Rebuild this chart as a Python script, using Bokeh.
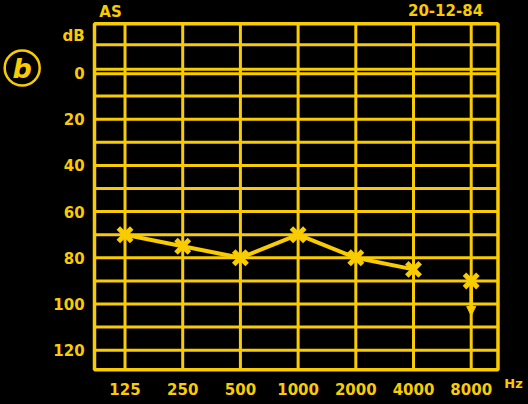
import math
from bokeh.plotting import figure
from bokeh.models import Range1d, Arrow, NormalHead, ColumnDataSource
from bokeh.core.properties import value
from bokeh.embed import file_html
from bokeh.resources import INLINE

# ---- data ----
freqs_hz = [125, 250, 500, 1000, 2000, 4000, 8000]
freq_labels = ["125", "250", "500", "1000", "2000", "4000", "8000"]
thresholds_db = [70, 75, 80, 70, 80, 85, 90]
no_response = [False, False, False, False, False, False, True]
y_tick_values = [-16, 0, 20, 40, 60, 80, 100, 120]
y_tick_labels = ["dB", "0", "20", "40", "60", "80", "100", "120"]
y_grid_values = [-12.2, -1.6, 0.3, 10, 20, 30, 40, 50, 60, 70, 80, 90, 100, 110, 120]
patient = "AS"
test_date = "20-12-84"
unit_x = "Hz"
panel_letter = "b"

# ---- layout (in octave / dB units) ----
FRAME_L, FRAME_R = -0.529, 6.464
FRAME_T, FRAME_B = -21.3, 128.5
YLAB_X = -0.70
XLAB_Y = 136.8

YEL = "#F8CC00"
FONT = "DejaVu Sans"

oct_x = [math.log2(f / freqs_hz[0]) for f in freqs_hz]

resp_src = ColumnDataSource(dict(
    x=[x for x, n in zip(oct_x, no_response) if not n],
    y=[y for y, n in zip(thresholds_db, no_response) if not n]))
all_src = ColumnDataSource(dict(x=oct_x, y=thresholds_db))

p = figure(width=528, height=404, output_backend="svg", toolbar_location=None,
           x_range=Range1d(-2.158, 6.993), y_range=Range1d(143.5, -31.39),
           min_border=0, background_fill_color="black", border_fill_color="black",
           outline_line_color=None)
p.axis.visible = False
p.grid.visible = False

# grid
p.segment(x0=oct_x, y0=[FRAME_T] * len(oct_x), x1=oct_x, y1=[FRAME_B] * len(oct_x),
          line_color=YEL, line_width=3)
p.segment(x0=[FRAME_L] * len(y_grid_values), y0=y_grid_values,
          x1=[FRAME_R] * len(y_grid_values), y1=y_grid_values,
          line_color=YEL, line_width=3)
p.quad(left=[FRAME_L], right=[FRAME_R], top=[FRAME_T], bottom=[FRAME_B],
       fill_color=None, line_color=YEL, line_width=3.5)

# tick labels
txt = dict(text_color=YEL, text_font=value(FONT), text_font_style="bold")
p.text(x=oct_x, y=[XLAB_Y] * len(oct_x), text=freq_labels, text_align="center",
       text_baseline="middle", text_font_size="15px", **txt)
p.text(x=[YLAB_X] * len(y_tick_values), y=y_tick_values, text=y_tick_labels,
       text_align="right", text_baseline="middle", text_font_size="15px", **txt)

# data marks
p.line("x", "y", source=resp_src, line_color=YEL, line_width=4)
p.scatter("x", "y", source=all_src, marker="x", size=19, line_width=5, line_color=YEL)

for x, y, n in zip(oct_x, thresholds_db, no_response):
    if n:
        p.add_layout(Arrow(x_start=x, y_start=y, x_end=x, y_end=y + 15,
                           line_color=YEL, line_width=3.5,
                           end=NormalHead(size=9, fill_color=YEL, line_color=YEL)))

# header / decorations
p.text(x=[-0.251], y=[-26.6], text=[patient], text_align="center", text_baseline="middle",
       text_font_size="15px", **txt)
p.text(x=[5.555], y=[-27.3], text=[test_date], text_align="center", text_baseline="middle",
       text_font_size="15px", **txt)
p.text(x=[6.733], y=[134.4], text=[unit_x], text_align="center", text_baseline="middle",
       text_font_size="13px", **txt)
p.scatter(x=[-1.782], y=[-2.16], marker="circle", size=35, fill_color=None,
          line_color=YEL, line_width=2.5)
p.text(x=[-1.782], y=[-2.16], text=[panel_letter], text_align="center", text_baseline="middle",
       text_color=YEL, text_font=value(FONT), text_font_style="bold italic",
       text_font_size="27px")

html = file_html(p, INLINE)
html = html.replace("<head>", "<head><style>html,body{background:#000;margin:0;}</style>", 1)
open("out.html", "w").write(html)
